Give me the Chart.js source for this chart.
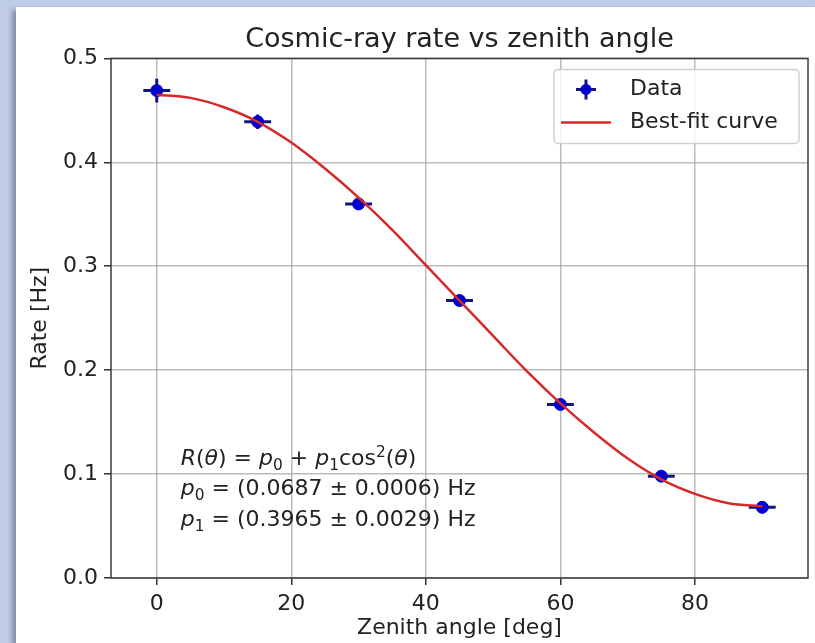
<!DOCTYPE html>
<html><head><meta charset="utf-8">
<script src="https://cdn.jsdelivr.net/npm/chart.js@4.4.1/dist/chart.umd.min.js"></script>
<style>
html,body{margin:0;padding:0;width:815px;height:643px;overflow:hidden;background:#bfcde8;}
#panel{position:absolute;left:16px;top:7px;width:799px;height:636px;background:#fff;box-shadow:-4px 3px 5px rgba(60,60,70,0.45);}
#c{position:absolute;left:0;top:0;}
</style></head><body>
<div id="panel"></div>
<canvas id="c" width="815" height="643"></canvas>
<script>
// ---- data ----
const angles = [0, 15, 30, 45, 60, 75, 90];
const rates = [0.469, 0.439, 0.360, 0.267, 0.167, 0.098, 0.068];
const rateErrors = [0.0115, 0.007, 0.005, 0.004, 0.004, 0.003, 0.003];
const angleErrors = [2, 2, 2, 2, 2, 2, 2];
const fitAngles = [0, 5, 10, 15, 20, 25, 30, 35, 40, 45, 50, 55, 60, 65, 70, 75, 80, 85, 90];
const fitRates = [0.465, 0.462, 0.453, 0.439, 0.419, 0.394, 0.366, 0.335, 0.301, 0.267, 0.233, 0.199, 0.168, 0.140, 0.115, 0.095, 0.081, 0.072, 0.069];
const xTicks = [0, 20, 40, 60, 80];
const xTickLabels = ['0', '20', '40', '60', '80'];
const yTicks = [0, 0.1, 0.2, 0.3, 0.4, 0.5];
const yTickLabels = ['0.0', '0.1', '0.2', '0.3', '0.4', '0.5'];
const seriesNames = ['Data', 'Best-fit curve'];
const titleText = 'Cosmic-ray rate vs zenith angle';
const xTitle = 'Zenith angle [deg]';
const yTitle = 'Rate [Hz]';
const annotationLines = [
  [['R','i'],['(',''],['θ','i'],[') = ',''],['p','i'],['0','sub'],[' + ',''],['p','i'],['1','sub'],['cos',''],['2','sup'],['(',''],['θ','i'],[')','']],
  [['p','i'],['0','sub'],[' = (0.0687 ± 0.0006) Hz','']],
  [['p','i'],['1','sub'],[' = (0.3965 ± 0.0029) Hz','']]
];

const FONT = "'DejaVu Sans', sans-serif";
const TEXT = '#222222';

function drawRich(ctx, segs, x, y, size) {
  let cx = x;
  segs.forEach(s => {
    let fs = size, dy = 0, style = '';
    if (s[1] === 'i') style = 'italic ';
    if (s[1] === 'sub') { fs = size * 0.7; dy = size * 0.22; }
    if (s[1] === 'sup') { fs = size * 0.7; dy = -size * 0.4; }
    ctx.font = style + fs + 'px ' + FONT;
    ctx.fillText(s[0], cx, y + dy);
    cx += ctx.measureText(s[0]).width;
  });
}

const extras = {
  id: 'extras',
  beforeDatasetsDraw(chart) {
    const { ctx, scales: { x, y } } = chart;
    ctx.save();
    ctx.strokeStyle = '#16167a';
    ctx.lineWidth = 3;
    angles.forEach((a, i) => {
      const px = x.getPixelForValue(a), py = y.getPixelForValue(rates[i]);
      const x0 = x.getPixelForValue(a - angleErrors[i]), x1 = x.getPixelForValue(a + angleErrors[i]);
      const y0 = y.getPixelForValue(rates[i] - rateErrors[i]), y1 = y.getPixelForValue(rates[i] + rateErrors[i]);
      ctx.beginPath();
      ctx.moveTo(x0, py); ctx.lineTo(x1, py);
      ctx.moveTo(px, y0); ctx.lineTo(px, y1);
      ctx.stroke();
    });
    ctx.restore();
  },
  afterDatasetsDraw(chart) {
    const { ctx, chartArea: a } = chart;
    ctx.save();
    // frame
    ctx.strokeStyle = '#3a3a3a';
    ctx.lineWidth = 1.5;
    ctx.strokeRect(a.left, a.top, a.right - a.left, a.bottom - a.top);
    // annotation
    ctx.fillStyle = TEXT;
    ctx.textBaseline = 'alphabetic';
    ctx.textAlign = 'left';
    const ax = a.left + 0.1 * (a.right - a.left);
    const baselines = [a.top + 407, a.top + 437, a.top + 468];
    annotationLines.forEach((l, i) => drawRich(ctx, l, ax, baselines[i], 22));
    // legend
    const lw = 245, lh = 74;
    const lx = a.right - 9 - lw, ly = a.top + 11;
    ctx.beginPath();
    ctx.roundRect(lx, ly, lw, lh, 4);
    ctx.fillStyle = 'rgba(255,255,255,0.8)';
    ctx.fill();
    ctx.strokeStyle = '#cfcfcf';
    ctx.lineWidth = 1.5;
    ctx.stroke();
    const hx = lx + 32, r1 = ly + 20, r2 = ly + 53;
    ctx.strokeStyle = '#16167a';
    ctx.lineWidth = 3;
    ctx.beginPath();
    ctx.moveTo(hx - 10, r1); ctx.lineTo(hx + 10, r1);
    ctx.moveTo(hx, r1 - 10); ctx.lineTo(hx, r1 + 10);
    ctx.stroke();
    ctx.fillStyle = '#0000d0';
    ctx.beginPath(); ctx.arc(hx, r1, 5.5, 0, Math.PI * 2); ctx.fill();
    ctx.strokeStyle = '#d42a2a';
    ctx.lineWidth = 2.5;
    ctx.beginPath(); ctx.moveTo(hx - 25, r2); ctx.lineTo(hx + 25, r2); ctx.stroke();
    ctx.fillStyle = TEXT;
    ctx.font = '22px ' + FONT;
    ctx.textBaseline = 'middle';
    ctx.fillText(seriesNames[0], lx + 76, r1);
    ctx.fillText(seriesNames[1], lx + 76, r2);
    ctx.restore();
  }
};

const gridOpts = { color: 'rgba(165,165,165,0.75)', lineWidth: 1.5, tickLength: 7, tickColor: '#333333', tickWidth: 1.5 };

new Chart(document.getElementById('c'), {
  type: 'scatter',
  data: {
    datasets: [
      {
        label: seriesNames[1],
        data: fitAngles.map((a, i) => ({ x: a, y: fitRates[i] })),
        showLine: true, fill: false,
        borderColor: '#d42a2a', borderWidth: 2.5,
        pointRadius: 0, pointHoverRadius: 0,
        cubicInterpolationMode: 'monotone',
        order: 0
      },
      {
        label: seriesNames[0],
        data: angles.map((a, i) => ({ x: a, y: rates[i] })),
        showLine: false,
        pointRadius: 6, pointHoverRadius: 6,
        pointBackgroundColor: '#0000d0', pointBorderColor: '#0000d0', pointBorderWidth: 1,
        order: 1
      }
    ]
  },
  options: {
    responsive: false, animation: false, devicePixelRatio: 1,
    layout: { padding: { left: 0, right: 6, top: 0, bottom: 0 } },
    plugins: {
      legend: { display: false },
      tooltip: { enabled: false },
      title: {
        display: true, text: titleText, fullSize: false,
        font: { family: FONT, size: 27, weight: 'normal' }, color: TEXT,
        padding: { top: 24, bottom: 2 }
      }
    },
    scales: {
      x: {
        type: 'linear', min: -6.8, max: 96.8,
        afterBuildTicks: s => { s.ticks = xTicks.map(v => ({ value: v })); },
        afterFit: s => { s.height = 65; },
        ticks: { callback: (v, i) => xTickLabels[i], font: { family: FONT, size: 22 }, color: TEXT, padding: 6, maxRotation: 0, autoSkip: false },
        grid: gridOpts,
        border: { display: false },
        title: { display: true, text: xTitle, font: { family: FONT, size: 22 }, color: TEXT, padding: { top: 0, bottom: 2 } }
      },
      y: {
        type: 'linear', min: 0, max: 0.5,
        afterBuildTicks: s => { s.ticks = yTicks.map(v => ({ value: v })); },
        afterFit: s => { s.width = 111; },
        ticks: { callback: (v, i) => yTickLabels[i], font: { family: FONT, size: 22 }, color: TEXT, padding: 6, autoSkip: false },
        grid: gridOpts,
        border: { display: false },
        title: { display: true, text: yTitle, font: { family: FONT, size: 22 }, color: TEXT, padding: { top: 27, bottom: 0 } }
      }
    }
  },
  plugins: [extras]
});
</script>
</body></html>
